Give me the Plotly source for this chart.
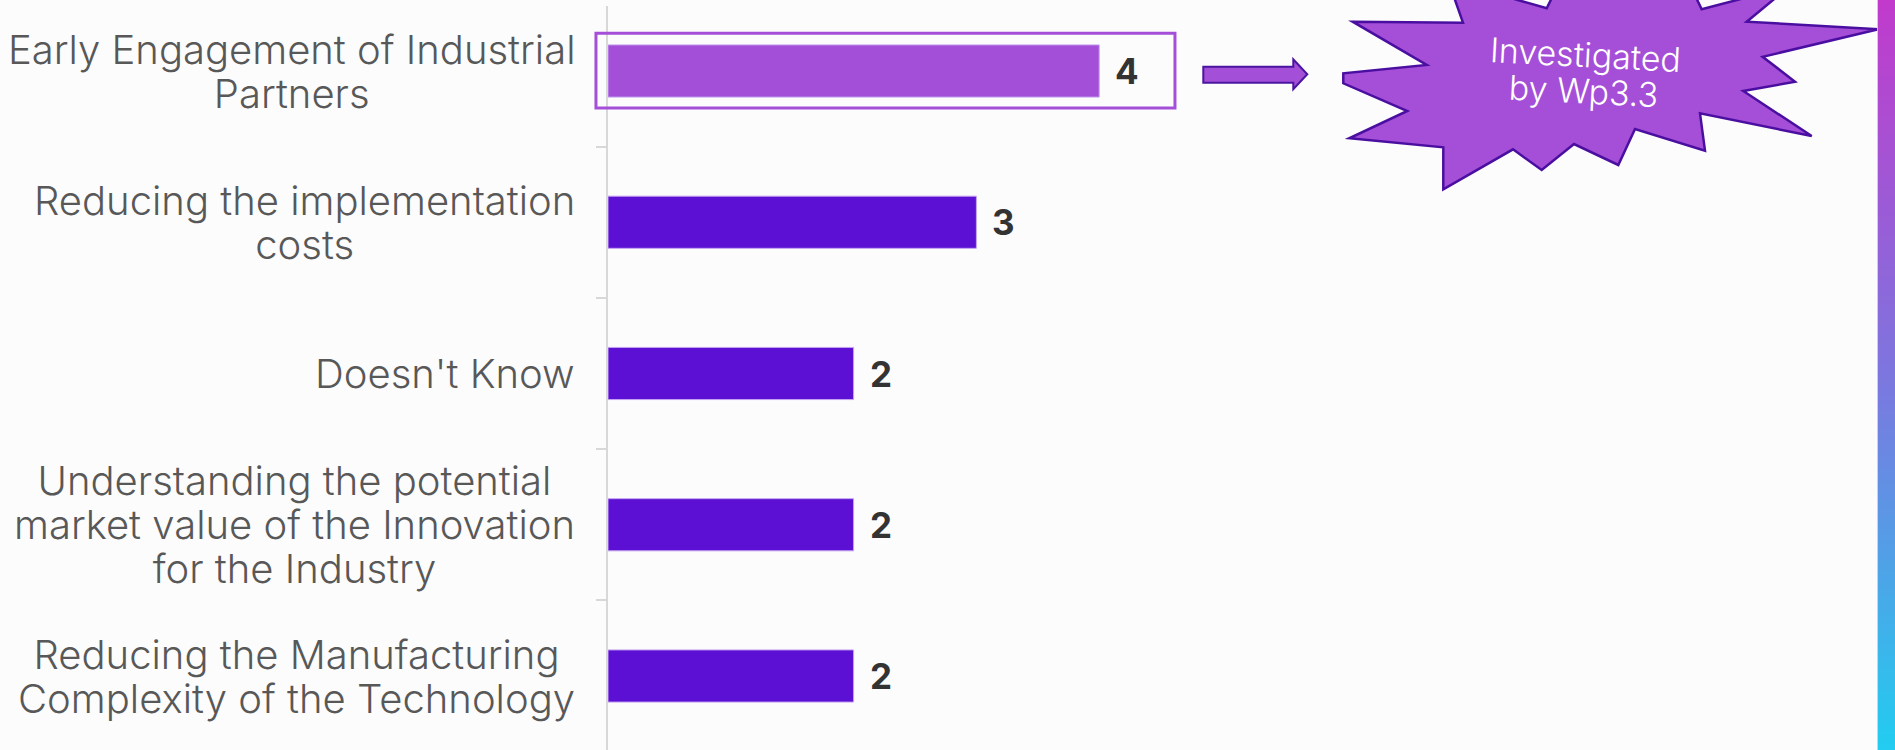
import plotly.graph_objects as go

# ---------------- data ----------------
categories = [
    "Early Engagement of Industrial Partners",
    "Reducing the implementation costs",
    "Doesn't Know",
    "Understanding the potential market value of the Innovation for the Industry",
    "Reducing the Manufacturing Complexity of the Technology",
]
tick_labels = [
    "Early Engagement of Industrial<br>Partners",
    "Reducing the implementation<br>costs",
    "Doesn't Know",
    "Understanding the potential<br>market value of the Innovation<br>for the Industry",
    "Reducing the Manufacturing<br>Complexity of the Technology",
]
values = [4, 3, 2, 2, 2]
bar_colors = ["#a34fd8", "#5c10d4", "#5c10d4", "#5c10d4", "#5c10d4"]
callout_text = "Investigated<br>by Wp3.3"

# ---------------- layout geometry ----------------
W, H = 1895, 750
L, R, T, B = 608, 18, 6, 0
pw = W - L - R
ph = H - T - B
UNIT = 122.8            # px per value unit
XMAX = pw / UNIT
ROW = 151.25            # px per category
Y0 = 71                 # px centre of first category


def px(x):
    return (x - L) / pw


def py(y):
    return 1 - (y - T) / ph


def cat_py(idx):
    return py(Y0 + idx * ROW)


def sized(text, size):
    """Bigger glyphs while keeping the annotation's base line spacing."""
    return "<br>".join(f'<span style="font-size:{size}px">{ln}</span>'
                       for ln in text.split("<br>"))


FONT = "Inter, Open Sans, sans-serif"

fig = go.Figure()
fig.add_trace(go.Bar(
    x=values, y=categories, orientation="h", width=0.345,
    marker=dict(color=bar_colors, line=dict(color="#c6a4f0", width=1)),
    hoverinfo="skip", showlegend=False,
))

annotations = []
# category labels (centered lines, right-aligned block)
for cat, lab in zip(categories, tick_labels):
    annotations.append(dict(
        x=0, xref="paper", y=cat, yref="y", text=sized(lab, 40), showarrow=False,
        xanchor="right", yanchor="middle", align="center", xshift=-31,
        font=dict(family=FONT, size=34, color="#585858", weight=300),
    ))
# value labels
for cat, v in zip(categories, values):
    annotations.append(dict(
        x=v, xref="x", y=cat, yref="y", text=str(v), showarrow=False,
        xanchor="left", yanchor="middle", xshift=14,
        font=dict(family=FONT, size=35, color="#333333", weight=700),
    ))
# callout text
annotations.append(dict(
    x=px(1584), xref="paper", y=py(72), yref="paper", text=sized(callout_text, 34),
    showarrow=False, textangle=3, align="center",
    xanchor="center", yanchor="middle",
    font=dict(family=FONT, size=28, color="#ffffff", weight=300),
))

shapes = []
# highlight box around first bar (paper refs so it is not clipped)
shapes.append(dict(
    type="rect", xref="paper", yref="paper",
    x0=-0.098 / XMAX, x1=(values[0] + 0.617) / XMAX,
    y0=cat_py(0.245), y1=cat_py(-0.25),
    line=dict(color="#a54fd8", width=3),
    fillcolor="rgba(0,0,0,0)", layer="above",
))

# block arrow
arrow_pts = [(1203.3, 66.7), (1293.3, 66.7), (1293.3, 59.3), (1307.3, 74.3),
             (1293.3, 89.3), (1293.3, 82.7), (1203.3, 82.7)]
path = "M " + " L ".join(f"{px(x):.5f},{py(y):.5f}" for x, y in arrow_pts) + " Z"
shapes.append(dict(type="path", xref="paper", yref="paper", path=path,
                   fillcolor="#a44fd8", line=dict(color="#4a16a0", width=2)))

# starburst
star_pts = [
    (1352.7, 21.7), (1463, 22.7), (1448, -20), (1546.7, 8.3), (1625, -150),
    (1701.7, 9.3), (1790, -14), (1746.7, 21.7), (1878.3, 29.3), (1762.6, 56.8),
    (1795, 81.7), (1743.3, 91), (1811.7, 136), (1700, 113.3), (1705, 150.7),
    (1635, 129), (1618.3, 165), (1574, 144), (1541.7, 170), (1513, 149.3),
    (1443.3, 189.3), (1443.3, 147.3), (1349.3, 138.3), (1407.3, 111),
    (1343.3, 83.3), (1343.3, 73.3), (1426.7, 65),
]
path = "M " + " L ".join(f"{px(x):.5f},{py(y):.5f}" for x, y in star_pts) + " Z"
shapes.append(dict(type="path", xref="paper", yref="paper", path=path,
                   fillcolor="#a54fd8", line=dict(color="#4a0fa0", width=2.5),
                   layer="below"))

# gradient strip on the right edge
stops = [(0.0, (193, 58, 204)), (0.5, (125, 118, 222)), (1.0, (34, 205, 240))]


def grad(t):
    for (t0, c0), (t1, c1) in zip(stops[:-1], stops[1:]):
        if t <= t1:
            f = (t - t0) / (t1 - t0)
            return "rgb(%d,%d,%d)" % tuple(round(a + (b - a) * f) for a, b in zip(c0, c1))
    return "rgb(%d,%d,%d)" % stops[-1][1]


n = 150
step = H / n
for i in range(n):
    y0p = i * step
    y1p = (i + 1) * step + 0.6
    shapes.append(dict(type="rect", xref="paper", yref="paper",
                       x0=px(1877.5), x1=px(1896), y0=py(y1p), y1=py(y0p),
                       fillcolor=grad((i + 0.5) / n), line=dict(width=0),
                       layer="above"))
# thin light edge of the strip
shapes.append(dict(type="line", xref="paper", yref="paper",
                   x0=px(1877.5), x1=px(1877.5), y0=py(H), y1=py(0),
                   line=dict(color="rgba(230,200,240,0.8)", width=1),
                   layer="above"))

fig.update_layout(
    width=W, height=H,
    margin=dict(l=L, r=R, t=T, b=B, pad=0),
    paper_bgcolor="#fcfcfc", plot_bgcolor="#fcfcfc",
    xaxis=dict(range=[0, XMAX], visible=False, fixedrange=True),
    yaxis=dict(
        type="category", categoryorder="array", categoryarray=categories,
        range=[4 + (H - (Y0 + 4 * ROW)) / ROW, -(Y0 - T) / ROW],
        showline=True, linecolor="#d8d8d8", linewidth=2,
        ticks="outside", tickson="boundaries", ticklen=10, tickwidth=1.5,
        tickcolor="#d8d8d8", showticklabels=False, showgrid=False,
        zeroline=False, fixedrange=True,
    ),
    annotations=annotations,
    shapes=shapes,
    showlegend=False,
)

fig.write_html(
    "out.html",
    config={"displayModeBar": False},
    post_script="document.body.style.margin='0';document.body.style.overflow='hidden';",
)
